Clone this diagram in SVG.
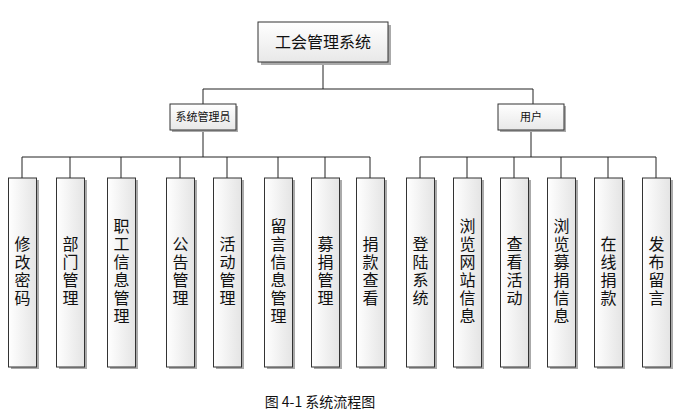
<svg xmlns="http://www.w3.org/2000/svg" width="678" height="420" viewBox="0 0 678 420">
<defs>
<linearGradient id="g" x1="0" y1="0" x2="1" y2="0"><stop offset="0" stop-color="#ffffff"/><stop offset="1" stop-color="#e4e4e4"/></linearGradient>
<linearGradient id="gv" x1="0" y1="0" x2="0" y2="1"><stop offset="0" stop-color="#ffffff"/><stop offset="1" stop-color="#e8e8e8"/></linearGradient>
</defs>
<style>
.b{fill:url(#gv);stroke:#333;stroke-width:1}
.c{fill:url(#g);stroke:#333;stroke-width:1}
.s{fill:#aaa}
.t{font-family:"Noto Sans CJK SC",sans-serif;fill:#111}
.v{font-family:"Noto Sans CJK SC",sans-serif;font-size:16px;fill:#111;writing-mode:vertical-rl;text-anchor:middle;letter-spacing:2px}
.l{stroke:#222;stroke-width:1;fill:none}
</style>
<g id="connectors">
<path class="l" d="M323 62V89M203 89H533M203 89V104M533 89V104M203 130V157M531 130V157M22 157H370M420 157H656"/>
<path class="l" d="M22 157V178M70 157V178M121 157V178M180 157V178M227 157V178M278 157V178M325 157V178M370 157V178M420 157V178M467 157V178M514 157V178M561 157V178M608 157V178M656 157V178"/>
</g>
<g id="root"><rect class="s" x="261" y="25" width="130" height="40"/><rect class="b" x="258" y="22" width="130" height="40"/><text class="t" x="323" y="48" font-size="16" text-anchor="middle">工会管理系统</text></g>
<g id="admin"><rect class="s" x="172" y="106" width="66" height="26"/><rect class="b" x="170" y="104" width="66" height="26"/><text class="t" x="203" y="121" font-size="11" text-anchor="middle">系统管理员</text></g>
<g id="user"><rect class="s" x="500" y="106" width="66" height="26"/><rect class="b" x="498" y="104" width="66" height="26"/><text class="t" x="531" y="121" font-size="11" text-anchor="middle">用户</text></g>
<g id="n1"><rect class="s" x="11" y="180" width="28" height="189"/><rect class="c" x="8.5" y="178" width="28" height="189"/><text class="v" x="22.5" y="272">修改密码</text></g>
<g id="n2"><rect class="s" x="59" y="180" width="28" height="189"/><rect class="c" x="56.5" y="178" width="28" height="189"/><text class="v" x="70.5" y="272">部门管理</text></g>
<g id="n3"><rect class="s" x="110" y="180" width="28" height="189"/><rect class="c" x="107.5" y="178" width="28" height="189"/><text class="v" x="121.5" y="272">职工信息管理</text></g>
<g id="n4"><rect class="s" x="169" y="180" width="28" height="189"/><rect class="c" x="166.5" y="178" width="28" height="189"/><text class="v" x="180.5" y="272">公告管理</text></g>
<g id="n5"><rect class="s" x="216" y="180" width="28" height="189"/><rect class="c" x="213.5" y="178" width="28" height="189"/><text class="v" x="227.5" y="272">活动管理</text></g>
<g id="n6"><rect class="s" x="267" y="180" width="28" height="189"/><rect class="c" x="264.5" y="178" width="28" height="189"/><text class="v" x="278.5" y="272">留言信息管理</text></g>
<g id="n7"><rect class="s" x="314" y="180" width="28" height="189"/><rect class="c" x="311.5" y="178" width="28" height="189"/><text class="v" x="325.5" y="272">募捐管理</text></g>
<g id="n8"><rect class="s" x="359" y="180" width="28" height="189"/><rect class="c" x="356.5" y="178" width="28" height="189"/><text class="v" x="370.5" y="272">捐款查看</text></g>
<g id="n9"><rect class="s" x="409" y="180" width="28" height="189"/><rect class="c" x="406.5" y="178" width="28" height="189"/><text class="v" x="420.5" y="272">登陆系统</text></g>
<g id="n10"><rect class="s" x="456" y="180" width="28" height="189"/><rect class="c" x="453.5" y="178" width="28" height="189"/><text class="v" x="467.5" y="272">浏览网站信息</text></g>
<g id="n11"><rect class="s" x="503" y="180" width="28" height="189"/><rect class="c" x="500.5" y="178" width="28" height="189"/><text class="v" x="514.5" y="272">查看活动</text></g>
<g id="n12"><rect class="s" x="550" y="180" width="28" height="189"/><rect class="c" x="547.5" y="178" width="28" height="189"/><text class="v" x="561.5" y="272">浏览募捐信息</text></g>
<g id="n13"><rect class="s" x="597" y="180" width="28" height="189"/><rect class="c" x="594.5" y="178" width="28" height="189"/><text class="v" x="608.5" y="272">在线捐款</text></g>
<g id="n14"><rect class="s" x="645" y="180" width="28" height="189"/><rect class="c" x="642.5" y="178" width="28" height="189"/><text class="v" x="656.5" y="272">发布留言</text></g>
<text class="t" x="320" y="407" font-size="14" text-anchor="middle">图 4-1 系统流程图</text>
</svg>
